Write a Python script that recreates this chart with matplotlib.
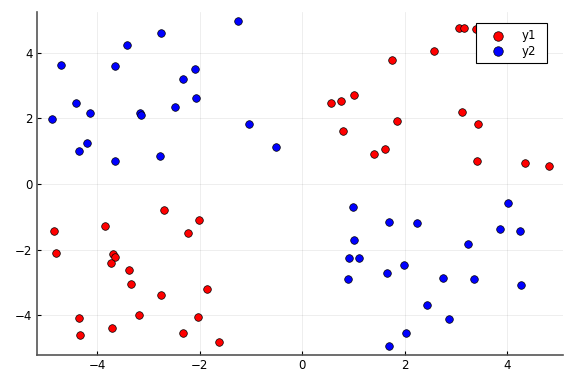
import matplotlib
matplotlib.use("Agg")
import matplotlib.pyplot as plt

y1_x = [3.05, 3.16, 3.39, 3.95, 2.57, 1.74, 0.55, 0.75, 1.00, 3.11, 3.43, 1.84, 0.79, 1.61, 1.40, 3.41, 4.35, 4.81,
        -2.70, -2.01, -2.22, -3.84, -4.85, -4.81, -3.70, -3.65, -3.74, -3.38, -3.34, -1.86, -2.76, -4.35, -3.19,
        -2.04, -3.72, -4.34, -2.33, -1.62]
y1_y = [4.74, 4.76, 4.71, 4.78, 4.05, 3.79, 2.47, 2.52, 2.72, 2.18, 1.84, 1.92, 1.60, 1.08, 0.92, 0.70, 0.65, 0.56,
        -0.80, -1.09, -1.50, -1.27, -1.43, -2.09, -2.13, -2.23, -2.40, -2.63, -3.05, -3.19, -3.37, -4.09, -4.00,
        -4.06, -4.39, -4.61, -4.54, -4.80]

y2_x = [-1.25, -2.75, -3.42, -4.71, -3.66, -2.10, -2.32, -4.41, -2.07, -2.48, -4.14, -3.17, -3.14, -4.89, -1.04,
        -0.51, -4.19, -4.35, -3.65, -2.78,
        0.99, 4.02, 1.69, 2.24, 3.86, 4.25, 1.01, 3.24, 0.92, 1.11, 1.98, 1.65, 0.89, 2.74, 3.35, 4.27, 2.43, 2.87,
        2.02, 1.69]
y2_y = [4.96, 4.61, 4.25, 3.62, 3.59, 3.50, 3.21, 2.46, 2.61, 2.36, 2.16, 2.17, 2.09, 1.99, 1.82,
        1.13, 1.24, 1.01, 0.69, 0.86,
        -0.71, -0.57, -1.17, -1.18, -1.36, -1.42, -1.72, -1.82, -2.24, -2.24, -2.48, -2.70, -2.88, -2.86, -2.88,
        -3.07, -3.68, -4.11, -4.55, -4.93]

xticks = [-4, -2, 0, 2, 4]
yticks = [-4, -2, 0, 2, 4]

fig = plt.figure(figsize=(5.76, 3.84), dpi=100)
ax = fig.add_axes([36.7/576, 1 - 355/384, (563.3-36.7)/576, (355-11.7)/384])

ax.scatter(y1_x, y1_y, s=30, c="#ff0000", edgecolors="black", linewidths=0.5, label="y1", zorder=3)
ax.scatter(y2_x, y2_y, s=30, c="#0000ff", edgecolors="black", linewidths=0.5, label="y2", zorder=3)

ax.set_xlim(-5.18, 5.09)
ax.set_ylim(-5.21, 5.25)
ax.set_xticks(xticks)
ax.set_yticks(yticks)
ax.set_xticklabels([str(t).replace("-", "\u2212") for t in xticks])
ax.set_yticklabels([str(t).replace("-", "\u2212") for t in yticks])
ax.grid(True, color="black", alpha=0.08, linewidth=0.6)
ax.set_axisbelow(True)
for s in ["top", "right"]:
    ax.spines[s].set_visible(False)
for s in ["left", "bottom"]:
    ax.spines[s].set_color("#555555")
    ax.spines[s].set_linewidth(1.2)
ax.tick_params(direction="in", length=3, width=0.8, labelsize=8.5, colors="black", pad=3)

leg = ax.legend(loc="upper left", mode="expand",
                bbox_to_anchor=(475.7/576, 1 - 61.7/384, 71/576, 38.4/384), bbox_transform=fig.transFigure,
                borderaxespad=0, fancybox=False, framealpha=1, edgecolor="black", fontsize=8.5,
                markerscale=1.25, handlelength=2.83, handletextpad=0.57, borderpad=0.5, labelspacing=0.2)
leg.get_frame().set_linewidth(0.8)
leg.set_zorder(10)

fig.savefig("out.png", dpi=100)
